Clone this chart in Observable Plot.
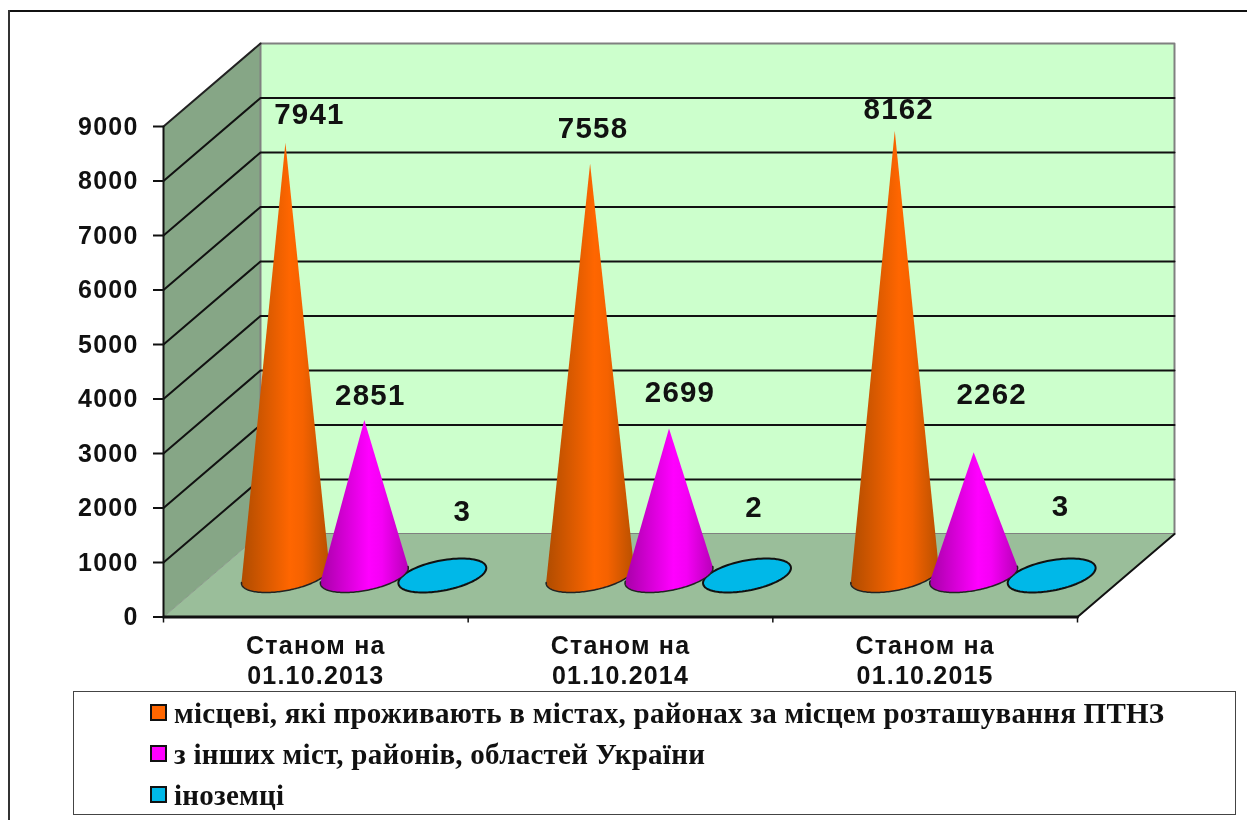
<!DOCTYPE html>
<html>
<head>
<meta charset="utf-8">
<script src="https://cdn.jsdelivr.net/npm/d3@7"></script>
<script src="https://cdn.jsdelivr.net/npm/@observablehq/plot@0.6"></script>
<style>
  html, body { margin: 0; padding: 0; background: #fff; }
  #page { position: relative; width: 1247px; height: 820px; overflow: hidden; filter: blur(0.45px); }
  #frameT { position: absolute; left: 9px; top: 10px; width: 1238px; height: 2px; background: #111; }
  #frameL { position: absolute; left: 8px; top: 10px; width: 2px; height: 810px; background: #333; }
  #chart svg { display: block; }
  #chart svg text { letter-spacing: 1.2px; -webkit-text-stroke: 0.3px #111; }
  #legend { position: absolute; left: 73px; top: 691px; width: 1161px; height: 122px; border: 1.5px solid #444; background: #fff;
            font-family: "Liberation Serif", serif; font-weight: 700; font-size: 29px; letter-spacing: 0.25px; color: #111; }
  .row { position: absolute; left: 76px; white-space: nowrap; line-height: 30px; height: 30px; }
  .sw { display: inline-block; width: 13px; height: 13px; border: 2px solid #111; margin-right: 7px; vertical-align: 2px; }
</style>
</head>
<body>
<div id="page">
  <div id="chart"></div>
  <div id="frameT"></div>
  <div id="frameL"></div>
  <div id="legend"></div>
</div>
<script>
// ---- data ----
const categories = ["Станом на\n01.10.2013", "Станом на\n01.10.2014", "Станом на\n01.10.2015"];
const local   = [7941, 7558, 8162];
const others  = [2851, 2699, 2262];
const foreign = [3, 2, 3];
const legendLabels = [
  "місцеві, які проживають в містах, районах за місцем розташування ПТНЗ",
  "з інших міст, районів, областей України",
  "іноземці"
];
const yTicks = [0, 1000, 2000, 3000, 4000, 5000, 6000, 7000, 8000, 9000];
const groupEdges = [0, 1, 2, 3];
const gridValues = [1000, 2000, 3000, 4000, 5000, 6000, 7000, 8000];
const seriesColors = ["#FF6600", "#FF00FF", "#00B8E8"];

// ---- 3D helpers, everything stays in data units and goes through Plot's scales ----
const pxPerCat = 304.67, pxPerVal = 0.0545;
const depthX = 97 / pxPerCat, depthY = 83 / pxPerVal;
const at = (c, v, depth = 0) => ({x: c + depth * depthX, y: v + depth * depthY});
const barOffset = [0.241, 0.5, 0.756];
const tilt = -11 * Math.PI / 180, rA = 44.7, rB = 15;

function ellipsePoint(cat, k, deg) {
  const t = deg * Math.PI / 180;
  const c = at(cat + barOffset[k], 0, 0.5);
  const ex = rA * Math.cos(t) * Math.cos(tilt) - rB * Math.sin(t) * Math.sin(tilt);
  const ey = rA * Math.cos(t) * Math.sin(tilt) + rB * Math.sin(t) * Math.cos(tilt);
  return {x: c.x + ex / pxPerCat, y: c.y - ey / pxPerVal, ex, ey};
}
function coneParts(cat, k, value) {
  const apexPxDown = -value * pxPerVal;
  let tR = 0, tL = 180, best1 = -Infinity, best2 = Infinity;
  for (let d = -90; d < 270; d++) {
    const p = ellipsePoint(cat, k, d);
    const r = p.ex / (p.ey - apexPxDown);
    if (r > best1) { best1 = r; tR = d; }
    if (r < best2) { best2 = r; tL = d; }
  }
  const arc = d3.range(tR, tL + 1, 2).map(d => ellipsePoint(cat, k, d));
  const apex = at(cat + barOffset[k], value, 0.5);
  return {arc, poly: [apex, ...arc, apex]};
}

const wallBack = [at(0, 0, 1), at(3, 0, 1), at(3, 9000, 1), at(0, 9000, 1), at(0, 0, 1)];
const wallSide = [at(0, 0), at(0, 0, 1), at(0, 9000, 1), at(0, 9000), at(0, 0)];
const floor = [at(0, 0), at(3, 0), at(3, 0, 1), at(0, 0, 1), at(0, 0)];
const xy = {x: "x", y: "y"};

const marks = [
  Plot.line(wallSide, {...xy, fill: "#86A686", stroke: "none"}),
  Plot.line(wallBack, {...xy, fill: "#CCFFCC", stroke: "#808080", strokeWidth: 2}),
  Plot.line(floor, {...xy, fill: "#9ABE9A", stroke: "none"}),
  // gridlines on both walls
  ...gridValues.map(v => Plot.line([at(0, v), at(0, v, 1), at(3, v, 1)], {...xy, stroke: "#111", strokeWidth: 2})),
  Plot.line([at(0, 9000), at(0, 9000, 1)], {...xy, stroke: "#222", strokeWidth: 2}),
  Plot.line([at(0, 0), at(0, 0, 1)], {...xy, stroke: "#8a9a8a", strokeWidth: 1}),
  Plot.line([at(3, 0), at(3, 0, 1)], {...xy, stroke: "#111", strokeWidth: 2}),
  Plot.line([at(0, 0), at(0, 9000)], {...xy, stroke: "#111", strokeWidth: 2}),
  Plot.line([at(0, 0), at(3, 0)], {...xy, stroke: "#111", strokeWidth: 3}),
  Plot.axisY(yTicks, {tickSize: 10, tickPadding: 15, strokeWidth: 2, stroke: "#111", fontSize: 25, fontWeight: 700, fill: "#111", tickFormat: d => String(d), label: null}),
  Plot.axisX(groupEdges, {tickSize: 6, tickPadding: 0, strokeWidth: 1.5, stroke: "#111", tickFormat: () => "", label: null}),
  Plot.text(categories, {x: (d, i) => i + 0.5, y: () => 0, text: d => d, dy: 42, lineHeight: 1.2, fontSize: 25, fontWeight: 700, fill: "#111"}),
];

// foreign (flat discs) first, then local cones, then the others cones
foreign.forEach((v, i) => {
  const ring = d3.range(0, 361, 4).map(d => ellipsePoint(i, 2, d));
  marks.push(Plot.line(ring, {...xy, fill: seriesColors[2], stroke: "#111", strokeWidth: 2}));
});
[[local, 0, "url(#gOrange)"], [others, 1, "url(#gMagenta)"]].forEach(([values, k, fill]) => {
  values.forEach((v, i) => {
    const {arc, poly} = coneParts(i, k, v);
    marks.push(Plot.line(poly, {...xy, fill, stroke: "none", curve: "linear"}));
    marks.push(Plot.line(arc, {...xy, stroke: "#222", strokeWidth: 1.5}));
  });
});

// value labels, with the nudges the original author applied by hand
const labelRows = [
  {c: 0, k: 0, v: local[0],   dx: 24,  dy: -28},
  {c: 1, k: 0, v: local[1],   dx: 3,   dy: -35},
  {c: 2, k: 0, v: local[2],   dx: 4,   dy: -21},
  {c: 0, k: 1, v: others[0],  dx: 6,   dy: -25},
  {c: 1, k: 1, v: others[1],  dx: 11,  dy: -36},
  {c: 2, k: 1, v: others[2],  dx: 18,  dy: -58},
  {c: 0, k: 2, v: foreign[0], dx: 20,  dy: -64},
  {c: 1, k: 2, v: foreign[1], dx: 7,   dy: -68},
  {c: 2, k: 2, v: foreign[2], dx: 9,   dy: -69},
];
labelRows.forEach(r => {
  const p = at(r.c + barOffset[r.k], r.v, 0.5);
  marks.push(Plot.text([r], {x: () => p.x, y: () => p.y, text: d => String(d.v), dx: r.dx, dy: r.dy, fontSize: 29.5, fontWeight: 700, fill: "#111"}));
});

const svg = Plot.plot({
  width: 1247, height: 692,
  marginLeft: 163, marginRight: 170, marginTop: 126, marginBottom: 75.5,
  x: {type: "linear", domain: [0, 3], axis: null},
  y: {type: "linear", domain: [0, 9000], axis: null},
  style: {fontFamily: '"Liberation Sans", Arial, sans-serif', background: "transparent", overflow: "visible"},
  marks
});
svg.insertAdjacentHTML("afterbegin", `<defs>
  <linearGradient id="gOrange" x1="0" x2="1" y1="0" y2="0">
    <stop offset="0" stop-color="#B04C00"/><stop offset="0.55" stop-color="#FF6600"/><stop offset="0.7" stop-color="#F56200"/><stop offset="1" stop-color="#B85000"/>
  </linearGradient>
  <linearGradient id="gMagenta" x1="0" x2="1" y1="0" y2="0">
    <stop offset="0" stop-color="#A800A8"/><stop offset="0.55" stop-color="#FF00FF"/><stop offset="0.7" stop-color="#F500F5"/><stop offset="1" stop-color="#B800B8"/>
  </linearGradient></defs>`);
document.getElementById("chart").appendChild(svg);

const legend = document.getElementById("legend");
const rowTops = [6, 47, 88];
legendLabels.forEach((label, i) => {
  const row = document.createElement("div");
  row.className = "row";
  row.style.top = rowTops[i] + "px";
  const sw = document.createElement("span");
  sw.className = "sw";
  sw.style.background = seriesColors[i];
  row.appendChild(sw);
  row.appendChild(document.createTextNode(label));
  legend.appendChild(row);
});
</script>
</body>
</html>
